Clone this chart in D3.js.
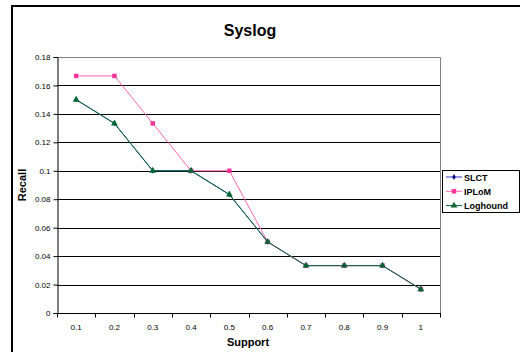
<!DOCTYPE html>
<html>
<head>
<meta charset="utf-8">
<script src="https://cdn.jsdelivr.net/npm/d3@7/dist/d3.min.js"></script>
<style>
  html, body { margin: 0; padding: 0; background: #fff; }
  svg { display: block; font-family: "Liberation Sans", Arial, sans-serif; }
</style>
</head>
<body>
<svg id="chart" width="520" height="352"></svg>
<script>
// Support thresholds on the x axis
const categories = ["0.1", "0.2", "0.3", "0.4", "0.5", "0.6", "0.7", "0.8", "0.9", "1"];
// Recall per algorithm
const slct     = [0.15, 0.1333, 0.1, 0.1, 0.0833, 0.05, 0.0333, 0.0333, 0.0333, 0.0167];
const iplom    = [0.1667, 0.1667, 0.1333, 0.1, 0.1, 0.05, 0.0333, 0.0333, 0.0333, 0.0167];
const loghound = [0.15, 0.1333, 0.1, 0.1, 0.0833, 0.05, 0.0333, 0.0333, 0.0333, 0.0167];
const yTicks = [0, 0.02, 0.04, 0.06, 0.08, 0.1, 0.12, 0.14, 0.16, 0.18];

const FONT = "'Liberation Sans', Arial, sans-serif";

const series = [
  { name: "SLCT", values: slct, color: "#000080", lineColor: "#3333CC", marker: "diamond" },
  { name: "IPLoM", values: iplom, color: "#FF3399", lineColor: "#FF66B2", marker: "square" },
  { name: "Loghound", values: loghound, color: "#006633", lineColor: "#006633", marker: "triangle" }
];

const svg = d3.select("#chart");
const plot = { left: 57, right: 440, top: 57, bottom: 313 };

// Outer chart frame (runs past the right and bottom edges)
svg.append("rect")
  .attr("x", 12).attr("y", 6).attr("width", 520).attr("height", 360)
  .attr("fill", "#fff").attr("stroke", "#000").attr("stroke-width", 2);

const x = d3.scaleBand().domain(categories).range([plot.left, plot.right]).padding(0);
const y = d3.scaleLinear().domain([0, 0.18]).range([plot.bottom, plot.top]);

// Horizontal gridlines
svg.append("g").selectAll("line")
  .data(yTicks.filter(t => t > 0 && t < 0.18))
  .join("line")
  .attr("x1", plot.left).attr("x2", plot.right)
  .attr("y1", d => Math.round(y(d)) + 0.5).attr("y2", d => Math.round(y(d)) + 0.5)
  .attr("stroke", "#000").attr("stroke-width", 1);

// Plot area border (top and right in gray)
svg.append("path")
  .attr("d", `M${plot.left},${plot.top + 0.5}H${plot.right + 0.5}V${plot.bottom}`)
  .attr("fill", "none").attr("stroke", "#808080").attr("stroke-width", 1);

// Y axis
const yAxis = d3.axisLeft(y).tickValues(yTicks).tickSize(4).tickPadding(3)
  .tickFormat(d => d === 0 ? "0" : String(+d.toFixed(2)));
const gy = svg.append("g").attr("transform", `translate(${plot.left + 0.5},0)`).call(yAxis);
gy.attr("font-family", FONT);
gy.select(".domain").attr("stroke", "#000");
gy.selectAll(".tick line").attr("stroke", "#000");
gy.selectAll(".tick text").attr("font-size", 8).attr("fill", "#000");

// X axis: ticks fall between categories
const gx = svg.append("g").attr("transform", `translate(0,${plot.bottom + 0.5})`);
gx.append("line").attr("x1", plot.left).attr("x2", plot.right + 1)
  .attr("stroke", "#000");
const bounds = categories.map(c => x(c)).concat([plot.right]);
gx.selectAll("line.tk").data(bounds).join("line").attr("class", "tk")
  .attr("x1", d => Math.round(d) + 0.5).attr("x2", d => Math.round(d) + 0.5)
  .attr("y1", 0).attr("y2", 4).attr("stroke", "#000");
gx.selectAll("text").data(categories).join("text")
  .attr("x", d => x(d) + x.bandwidth() / 2).attr("y", 16)
  .attr("text-anchor", "middle").attr("font-size", 8).attr("fill", "#000")
  .text(d => d);

// Lines and markers
const cx = i => x(categories[i]) + x.bandwidth() / 2;
const line = d3.line().x((d, i) => cx(i)).y(d => y(d));
const symbolFor = m => m === "diamond" ? d3.symbolDiamond : m === "square" ? d3.symbolSquare : d3.symbolTriangle;
const symbolSize = m => m === "diamond" ? 10 : m === "square" ? 20 : 20;

series.forEach(s => {
  const g = svg.append("g");
  g.append("path").datum(s.values).attr("d", line)
    .attr("fill", "none").attr("stroke", s.lineColor).attr("stroke-width", 1);
  g.selectAll("path.m").data(s.values).join("path").attr("class", "m")
    .attr("transform", (d, i) => `translate(${cx(i)},${y(d)})`)
    .attr("d", d3.symbol().type(symbolFor(s.marker)).size(symbolSize(s.marker)))
    .attr("fill", s.color);
});

// Title and axis titles
svg.append("text").attr("x", 250).attr("y", 36).attr("text-anchor", "middle")
  .attr("font-size", 16).attr("font-weight", "bold").text("Syslog");
svg.append("text").attr("x", 248).attr("y", 346).attr("text-anchor", "middle")
  .attr("font-size", 11).attr("font-weight", "bold").text("Support");
svg.append("text").attr("transform", `translate(26,${(plot.top + plot.bottom) / 2}) rotate(-90)`)
  .attr("text-anchor", "middle").attr("font-size", 11).attr("font-weight", "bold").text("Recall");

// Legend
const lg = svg.append("g").attr("transform", "translate(442,170)");
lg.append("rect").attr("x", 0.5).attr("y", 0.5).attr("width", 77).attr("height", 42)
  .attr("fill", "#fff").attr("stroke", "#000");
series.forEach((s, i) => {
  const yy = 7 + i * 14.3;
  lg.append("line").attr("x1", 4).attr("x2", 20).attr("y1", yy).attr("y2", yy)
    .attr("stroke", s.lineColor).attr("stroke-width", 1);
  lg.append("path").attr("transform", `translate(12,${yy})`)
    .attr("d", d3.symbol().type(symbolFor(s.marker)).size(symbolSize(s.marker)))
    .attr("fill", s.color);
  lg.append("text").attr("x", 22).attr("y", yy + 3.5).attr("font-size", 9)
    .attr("font-weight", "bold").text(s.name);
});
</script>
</body>
</html>
